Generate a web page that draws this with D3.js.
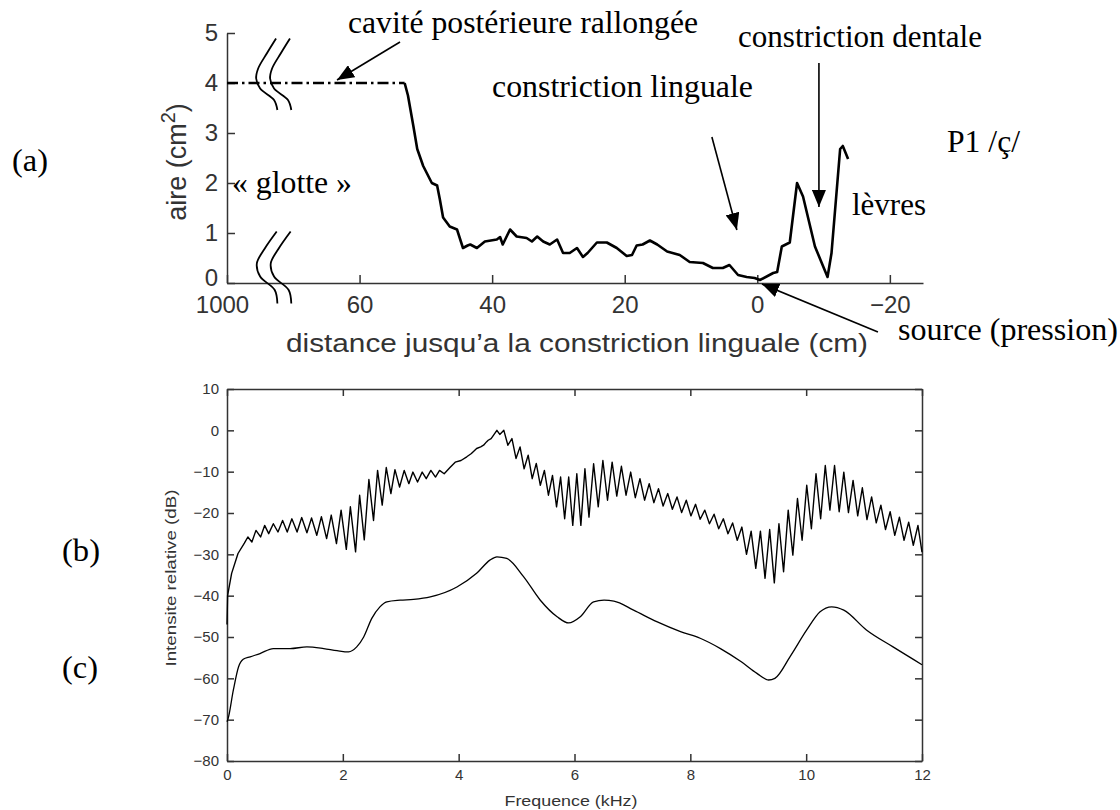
<!DOCTYPE html>
<html><head><meta charset="utf-8">
<script src="https://cdn.jsdelivr.net/npm/d3@7"></script>
<style>
body{margin:0;background:#fff;}
svg{display:block;}
.serif{font-family:"Liberation Serif","Times New Roman",serif;fill:#000;font-size:31px;}
.sans{font-family:"Liberation Sans",Arial,sans-serif;fill:#333;}
</style></head><body>
<svg id="chart" width="1120" height="810"></svg>
<script>
// ---------- DATA (a): area function ----------
const distTicks = [80, 60, 40, 20, 0, -20];
const distTickLabels = ["1000", "60", "40", "20", "0", "\u221220"];
const areaTicks = [0, 1, 2, 3, 4, 5];
const cavityX = [80, 53.2];
const cavityY = [4.0, 4.0];
const areaX = [53.2,52.7,51.9,51.3,50.4,49.1,48.3,47.9,47.4,46.4,45.3,44.4,43.7,43.3,42.3,41.1,39.3,38.8,38.4,37.3,36.3,34.8,34.0,33.2,32.3,31.3,30.2,29.3,28.3,27.2,26.3,25.6,24.2,22.7,21.2,19.7,18.9,18.2,17.3,16.2,15.1,13.6,11.7,10.2,8.2,6.7,5.2,4.2,2.9,1.6,0.4,-0.4,-2.4,-3.0,-3.7,-4.9,-6.0,-6.9,-8.7,-10.6,-11.2,-12.5,-12.9,-13.7];
const areaY = [4.0,3.75,3.15,2.68,2.34,2.0,1.95,1.68,1.31,1.13,1.07,0.70,0.75,0.77,0.70,0.83,0.87,0.92,0.77,1.07,0.93,0.90,0.83,0.93,0.83,0.77,0.87,0.60,0.60,0.70,0.52,0.60,0.81,0.81,0.70,0.54,0.56,0.75,0.77,0.85,0.77,0.63,0.56,0.42,0.40,0.30,0.30,0.36,0.16,0.12,0.10,0.06,0.20,0.22,0.73,0.81,2.0,1.73,0.73,0.12,0.60,2.68,2.74,2.48];

// ---------- DATA (b),(c): spectra ----------
const freqTicks = [0, 2, 4, 6, 8, 10, 12];
const dbTicks = [10, 0, -10, -20, -30, -40, -50, -60, -70, -80];
const spectrumB = [
[0.00,-47],[0.01,-40],[0.08,-34.6],[0.19,-29.8],[0.30,-27.3],
[0.36,-25.8],[0.43,-27.0],[0.50,-24.2],[0.58,-25.8],[0.65,-23.0],[0.72,-25.0],[0.80,-22.6],[0.88,-24.6],[0.96,-21.8],[1.04,-24.6],
[1.12,-21.4],[1.21,-24.6],[1.29,-21.1],[1.38,-24.8],[1.46,-21.2],[1.55,-25.4],[1.63,-20.9],[1.72,-26.2],[1.80,-20.5],[1.89,-27.4],
[1.97,-19.3],[2.06,-28.8],[2.13,-18.5],[2.22,-29.4],[2.29,-15.7],[2.37,-26.5],[2.45,-11.9],[2.53,-21.8],[2.60,-9.7],[2.68,-18.1],
[2.75,-9.0],[2.83,-15.3],[2.90,-9.5],[2.98,-13.7],[3.06,-9.7],[3.14,-12.9],[3.21,-10.1],[3.29,-12.5],[3.37,-10.1],[3.44,-11.7],
[3.52,-9.7],[3.60,-11.3],[3.67,-9.7],[3.75,-10.5],[3.85,-9.0],[3.94,-7.7],[4.04,-7.3],[4.14,-6.4],[4.22,-5.6],[4.31,-4.4],
[4.38,-4.0],[4.43,-3.6],[4.48,-2.8],[4.51,-2.4],[4.56,-2.0],[4.60,-1.2],[4.66,0],[4.71,-1.0],[4.78,0],[4.85,-3.6],
[4.92,-2.0],[4.99,-6.8],[5.06,-4.0],[5.13,-9.3],[5.20,-6.0],[5.27,-11.7],[5.34,-8.0],[5.41,-13.3],[5.48,-9.7],[5.55,-15.7],
[5.62,-10.9],[5.69,-18.5],[5.76,-11.3],[5.83,-21.4],[5.90,-11.3],[5.97,-23.0],[6.04,-10.5],[6.11,-23.0],[6.18,-9.3],[6.25,-21.0],
[6.33,-8.1],[6.41,-18.5],[6.49,-7.3],[6.57,-16.9],[6.65,-7.7],[6.73,-15.9],[6.81,-8.7],[6.89,-15.7],[6.97,-10.1],[7.05,-16.3],
[7.13,-11.7],[7.21,-16.9],[7.29,-12.9],[7.37,-17.5],[7.45,-14.1],[7.53,-18.3],[7.61,-15.3],[7.69,-19.1],[7.77,-16.1],[7.85,-19.9],
[7.93,-16.9],[8.01,-20.7],[8.09,-17.9],[8.17,-21.5],[8.25,-19.3],[8.33,-22.6],[8.41,-20.3],[8.49,-23.8],[8.57,-21.4],[8.65,-25.0],
[8.73,-22.4],[8.81,-26.6],[8.89,-23.4],[8.97,-30.0],[9.05,-24.4],[9.13,-33.4],[9.21,-24.4],[9.29,-35.8],[9.37,-24.0],[9.45,-36.9],
[9.53,-22.6],[9.61,-34.2],[9.69,-19.3],[9.77,-30.2],[9.85,-16.5],[9.93,-26.6],[10.01,-13.3],[10.09,-23.8],[10.17,-10.5],[10.25,-21.4],
[10.33,-8.5],[10.41,-19.3],[10.49,-8.5],[10.57,-19.7],[10.65,-10.1],[10.73,-19.9],[10.81,-12.1],[10.89,-20.7],[10.97,-13.9],[11.05,-21.6],
[11.13,-16.1],[11.21,-22.4],[11.29,-18.1],[11.37,-24.0],[11.45,-19.7],[11.53,-25.4],[11.61,-21.0],[11.69,-26.6],[11.77,-22.2],[11.85,-27.8],
[11.93,-23.0],[12.0,-29.5]
];
const spectrumC = [
[0,-70.5],[0.02,-69.7],[0.11,-62.8],[0.20,-57.2],[0.28,-55.4],[0.40,-54.8],[0.57,-54.0],[0.80,-52.8],[1.09,-52.8],[1.38,-52.4],
[1.67,-52.8],[1.90,-53.3],[2.10,-53.6],[2.24,-52.4],[2.36,-50.0],[2.50,-45.5],[2.64,-42.7],[2.76,-41.5],[2.99,-41.1],[3.22,-40.9],
[3.51,-40.3],[3.97,-37.9],[4.31,-34.6],[4.54,-31.4],[4.66,-30.6],[4.83,-31.0],[5.12,-35.4],[5.41,-41.1],[5.70,-45.1],[5.90,-46.6],
[6.10,-45.1],[6.33,-41.5],[6.51,-41.1],[6.68,-41.3],[7.02,-43.5],[7.42,-46.3],[7.83,-48.7],[8.17,-50.3],[8.52,-52.8],[8.88,-56.0],
[9.15,-58.8],[9.35,-60.4],[9.46,-60.0],[9.72,-54.8],[10.01,-48.3],[10.24,-43.9],[10.44,-42.7],[10.65,-43.5],[11.04,-48.3],[11.50,-52.4],
[12.0,-56.7]
];

// axis-break marks (in data units of chart a)
const breakUpper = [[72.6,4.89],[74.0,4.59],[75.3,4.29],[75.6,4.09],[75.0,3.89],[72.9,3.66],[72.4,3.46]];
const breakLower = [[72.5,1.03],[74.3,0.69],[75.5,0.39],[75.0,0.13],[72.8,-0.14],[72.4,-0.41]];
const breakShift = [0, -2.1];

// annotation arrows (data units of chart a)
const arrows = [
  {from:[53.9,4.82], to:[63.4,4.06]},
  {from:[6.85,2.92], to:[3.08,1.06]},
  {from:[-9.3,4.40], to:[-9.3,1.52]},
  {from:[-18.2,-0.98], to:[-0.7,-0.02]}
];

// ---------- DRAW ----------
const svg = d3.select("#chart");
svg.append("rect").attr("width",1120).attr("height",810).attr("fill","#fff");

const defs = svg.append("defs");
defs.append("marker").attr("id","ah").attr("markerUnits","userSpaceOnUse")
  .attr("markerWidth",18).attr("markerHeight",14).attr("refX",17).attr("refY",7)
  .attr("orient","auto")
  .append("path").attr("d","M0,0 L17,7 L0,14 Z").attr("fill","#000");

// ===== chart (a) =====
const xA = d3.scaleLinear().domain([80,-25]).range([227,923]);
const yA = d3.scaleLinear().domain([0,5]).range([283,33]);

function styleAxis(g, fs){
  g.selectAll(".domain").attr("stroke","#333").attr("stroke-width",1.5);
  g.selectAll(".tick line").attr("stroke","#333").attr("stroke-width",1.5);
  g.selectAll(".tick text").attr("fill","#333").attr("font-size",fs)
    .attr("font-family","'Liberation Sans',Arial,sans-serif");
}

const gxA = svg.append("g").attr("transform","translate(0,283)")
  .call(d3.axisBottom(xA).tickValues(distTicks).tickFormat((d,i)=>distTickLabels[i])
    .tickSizeInner(-8).tickSizeOuter(0).tickPadding(13));
styleAxis(gxA, 24);
gxA.selectAll(".tick text").filter(d=>d===80).attr("dx",-5);

const gyA = svg.append("g").attr("transform","translate(227,0)")
  .call(d3.axisLeft(yA).tickValues(areaTicks).tickFormat(d3.format("d"))
    .tickSizeInner(-8).tickSizeOuter(0).tickPadding(9));
styleAxis(gyA, 24);
gyA.selectAll(".tick text").filter(d=>d===0).attr("dy","0.1em");

// axis labels
const yl = svg.append("text").attr("class","sans").attr("font-size",27)
  .attr("text-anchor","middle").attr("transform","translate(186,162) rotate(-90)");
yl.append("tspan").text("aire (cm");
yl.append("tspan").attr("font-size",20).attr("dy",-11).text("2");
yl.append("tspan").attr("dy",11).text(")");

svg.append("text").attr("class","sans").attr("font-size",25)
  .attr("x",577).attr("y",352).attr("text-anchor","middle")
  .attr("textLength",582).attr("lengthAdjust","spacingAndGlyphs")
  .text("distance jusqu\u2019a la constriction linguale (cm)");

// dash-dot extended cavity
const lineA = d3.line().x(d=>xA(d[0])).y(d=>yA(d[1]));
svg.append("path").datum(cavityX.map((v,i)=>[v,cavityY[i]]))
  .attr("d",lineA).attr("fill","none").attr("stroke","#000")
  .attr("stroke-width",2.6).attr("stroke-dasharray","11,4,2.5,4");

// area function
svg.append("path").datum(areaX.map((v,i)=>[v,areaY[i]]))
  .attr("d",lineA).attr("fill","none").attr("stroke","#000")
  .attr("stroke-width",2.6).attr("stroke-linejoin","round");

// break marks
const breakLine = d3.line().x(d=>xA(d[0])).y(d=>yA(d[1])).curve(d3.curveCatmullRom);
[breakUpper, breakLower].forEach(shape=>{
  breakShift.forEach(s=>{
    svg.append("path").datum(shape.map(p=>[p[0]+s,p[1]]))
      .attr("d",breakLine).attr("fill","none").attr("stroke","#000").attr("stroke-width",1.8);
  });
});

// arrows
arrows.forEach(a=>{
  svg.append("line")
    .attr("x1",xA(a.from[0])).attr("y1",yA(a.from[1]))
    .attr("x2",xA(a.to[0])).attr("y2",yA(a.to[1]))
    .attr("stroke","#000").attr("stroke-width",1.6).attr("marker-end","url(#ah)");
});

// annotation texts
const notes = [
  {t:"cavit\u00e9 post\u00e9rieure rallong\u00e9e", x:348, y:33, w:350},
  {t:"constriction linguale", x:492, y:97, w:261},
  {t:"constriction dentale", x:738, y:47, w:244},
  {t:"P1 /\u00e7/", x:947, y:152, w:73},
  {t:"l\u00e8vres", x:852, y:215, w:74},
  {t:"\u00ab glotte \u00bb", x:232, y:193, w:120},
  {t:"source (pression)", x:898, y:340, w:220},
  {t:"(a)", x:12, y:171, w:36},
  {t:"(b)", x:62, y:561, w:38},
  {t:"(c)", x:62, y:678, w:36}
];
notes.forEach(n=>{
  svg.append("text").attr("class","serif").attr("x",n.x).attr("y",n.y)
    .attr("textLength",n.w).attr("lengthAdjust","spacingAndGlyphs").text(n.t);
});

// ===== chart (b)/(c) =====
const xB = d3.scaleLinear().domain([0,12]).range([227,922]);
const yB = d3.scaleLinear().domain([-80,10]).range([761,389]);

const gxB = svg.append("g").attr("transform","translate(0,761)")
  .call(d3.axisBottom(xB).tickValues(freqTicks).tickFormat(d3.format("d"))
    .tickSizeInner(-7).tickSizeOuter(0).tickPadding(8));
styleAxis(gxB, 15);
const gyB = svg.append("g").attr("transform","translate(227,0)")
  .call(d3.axisLeft(yB).tickValues(dbTicks).tickSizeInner(-7).tickSizeOuter(0).tickPadding(8));
styleAxis(gyB, 15);
const gtB = svg.append("g").attr("transform","translate(0,389)")
  .call(d3.axisTop(xB).tickValues(freqTicks).tickFormat("").tickSizeInner(-7).tickSizeOuter(0));
styleAxis(gtB, 15);
const grB = svg.append("g").attr("transform","translate(922,0)")
  .call(d3.axisRight(yB).tickValues(dbTicks).tickFormat("").tickSizeInner(-7).tickSizeOuter(0));
styleAxis(grB, 15);

svg.append("text").attr("class","sans").attr("font-size",15)
  .attr("text-anchor","middle").attr("transform","translate(176,578) rotate(-90)")
  .attr("textLength",177).attr("lengthAdjust","spacingAndGlyphs")
  .text("Intensite relative (dB)");
svg.append("text").attr("class","sans").attr("font-size",15)
  .attr("x",571).attr("y",806).attr("text-anchor","middle")
  .attr("textLength",133).attr("lengthAdjust","spacingAndGlyphs")
  .text("Frequence (kHz)");

const lineB = d3.line().x(d=>xB(d[0])).y(d=>yB(d[1]));
svg.append("path").datum(spectrumB).attr("d",lineB)
  .attr("fill","none").attr("stroke","#000").attr("stroke-width",1.4)
  .attr("stroke-linejoin","round");
const lineC = d3.line().x(d=>xB(d[0])).y(d=>yB(d[1])).curve(d3.curveMonotoneX);
svg.append("path").datum(spectrumC).attr("d",lineC)
  .attr("fill","none").attr("stroke","#000").attr("stroke-width",1.3);
</script>
</body></html>
